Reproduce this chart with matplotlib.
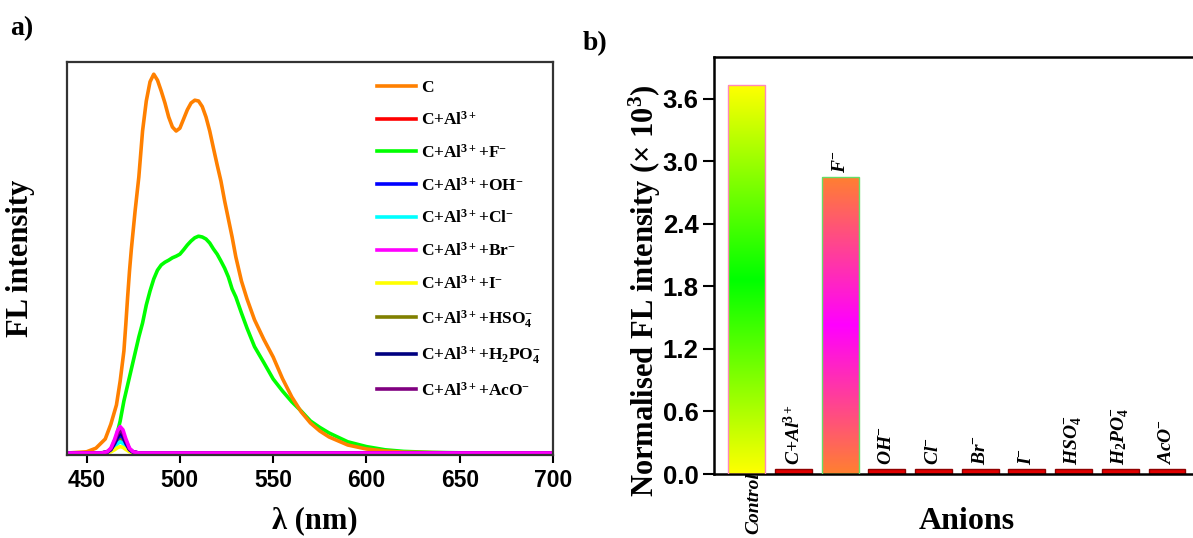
import matplotlib
matplotlib.use("Agg")
import matplotlib.pyplot as plt
import numpy as np
from matplotlib.colors import LinearSegmentedColormap
from matplotlib.font_manager import FontProperties

plt.rcParams['mathtext.fontset'] = 'custom'
plt.rcParams['mathtext.rm'] = 'Liberation Serif:bold'
plt.rcParams['mathtext.it'] = 'Liberation Serif:bold:italic'
plt.rcParams['mathtext.bf'] = 'Liberation Serif:bold'

# panel a: emission spectra (arbitrary units)
wl = [440, 450, 455, 460, 463, 466, 468, 470, 471, 472, 473, 474, 476, 478, 480, 482, 484,
      486, 488, 490, 492, 494, 496, 498, 500, 502, 504, 506, 508, 510, 512, 514,
      516, 518, 520, 522, 524, 526, 528, 530, 533, 536, 540, 545, 550, 555, 560,
      565, 570, 575, 580, 590, 600, 610, 620, 635, 650, 670, 700]
fl_c = [0, 3, 12, 35, 72, 120, 180, 255, 320, 390, 455, 510, 605, 690, 805, 880, 928,
        947, 932, 905, 875, 840, 815, 805, 812, 835, 858, 875, 882, 880, 866, 840,
        805, 762, 720, 680, 630, 585, 540, 490, 430, 385, 333, 284, 240, 186, 140,
        103, 75, 55, 40, 20, 10, 5, 2, 1, 0, 0, 0]
fl_f = [0, 0, 0, 1, 8, 42, 80, 130, 150, 170, 190, 210, 250, 290, 325, 370, 405,
        435, 457, 470, 477, 482, 488, 492, 497, 508, 520, 530, 538, 542, 540, 535,
        525, 510, 497, 480, 462, 440, 410, 390, 350, 312, 266, 226, 185, 155, 128,
        105, 80, 64, 50, 28, 16, 8, 4, 1.5, 0.5, 0, 0]

# quenched samples: only a small band near 468 nm
wl_q = [440, 458, 461, 463, 465, 466.5, 468, 469.5, 471, 473, 475, 478, 700]
fl_al = [0, 0, 2, 7, 21, 33, 40, 35, 22, 7, 2, 0, 0]
fl_oh = [0, 0, 2, 8, 23, 37, 45, 39, 24, 8, 2, 0, 0]
fl_cl = [0, 0, 1, 5, 14, 23, 28, 24, 15, 5, 1, 0, 0]
fl_br = [0, 0, 3, 12, 34, 55, 66, 58, 36, 12, 3, 0, 0]
fl_i = [0, 0, 1, 3, 8, 13, 16, 14, 9, 3, 1, 0, 0]
fl_hso4 = [0, 0, 2, 6, 18, 29, 35, 31, 19, 6, 2, 0, 0]
fl_h2po4 = [0, 0, 2, 9, 26, 41, 50, 44, 27, 9, 2, 0, 0]
fl_aco = [0, 0, 3, 10, 29, 47, 57, 50, 31, 10, 3, 0, 0]

labels_a = ['C', 'C+Al$^{3+}$', 'C+Al$^{3+}$+F$^{-}$', 'C+Al$^{3+}$+OH$^{-}$',
            'C+Al$^{3+}$+Cl$^{-}$', 'C+Al$^{3+}$+Br$^{-}$', 'C+Al$^{3+}$+I$^{-}$',
            'C+Al$^{3+}$+HSO$_4^{-}$', 'C+Al$^{3+}$+H$_2$PO$_4^{-}$',
            'C+Al$^{3+}$+AcO$^{-}$']
colors_a = ['#FF8000', '#FF0000', '#00FF00', '#0000FF', '#00FFFF', '#FF00FF',
            '#FFFF00', '#808000', '#000080', '#800080']

# panel b: normalised intensity (x 10^3)
anions = ['Control', 'C+Al$^{\\mathit{3+}}$', 'F$^{-}$', 'OH$^{-}$', 'Cl$^{-}$',
          'Br$^{-}$', 'I$^{-}$', 'HSO$_{\\mathit{4}}^{-}$',
          'H$_{\\mathit{2}}$PO$_{\\mathit{4}}^{-}$', 'AcO$^{-}$']
norm_fl = [3.73, 0.05, 2.85, 0.05, 0.05, 0.05, 0.05, 0.05, 0.05, 0.05]

serif_b = FontProperties(family='Liberation Serif', weight='bold', size=22)

fig = plt.figure(figsize=(11.93, 5.38), dpi=100)

# ---- panel a
ax = fig.add_axes([67 / 1193, 83 / 538, 486 / 1193, 393 / 538])
series = [(wl, fl_c), (wl_q, fl_al), (wl, fl_f), (wl_q, fl_oh), (wl_q, fl_cl),
          (wl_q, fl_br), (wl_q, fl_i), (wl_q, fl_hso4), (wl_q, fl_h2po4), (wl_q, fl_aco)]
order = [2, 0, 1, 7, 4, 6, 3, 8, 9, 5]
lines = {}
for k in order:
    x, y = series[k]
    lines[k], = ax.plot(x, y, color=colors_a[k], lw=2.6, label=labels_a[k])
handles = [lines[k] for k in range(10)]
ax.set_xlim(439.5, 700)
ax.set_ylim(-5, 977.5)
ax.set_yticks([])
ax.set_xticks([450, 500, 550, 600, 650, 700])
ax.tick_params(axis='x', direction='out', length=6, width=1.5, pad=4)
for lab in ax.get_xticklabels():
    lab.set_fontfamily('Liberation Sans')
    lab.set_fontweight('bold')
    lab.set_fontsize(16.5)
for sp in ax.spines.values():
    sp.set_linewidth(1.6)
    sp.set_color('#333333')
ax.set_xlabel('λ (nm)', fontproperties=serif_b)
ax.xaxis.set_label_coords(0.51, -0.13)
ax.set_ylabel('FL intensity', fontproperties=serif_b)
ax.yaxis.set_label_coords(-0.066, 0.5)
leg = ax.legend(handles=handles, loc='upper left', bbox_to_anchor=(0.638, 0.955),
                frameon=False, borderpad=0, borderaxespad=0, handlelength=2.25,
                handletextpad=0.3, labelspacing=0.86,
                prop=FontProperties(family='Liberation Serif', weight='bold', size=12.5))

# ---- panel b
bx = fig.add_axes([714 / 1193, 64 / 538, 481 / 1193, 417 / 538])
xpos = np.arange(len(anions))
bw = 0.79
bars = bx.bar(xpos, norm_fl, width=bw, color='#E00000', edgecolor='#900000', lw=1, zorder=2)
grad = np.linspace(0, 1, 256).reshape(-1, 1)
cm_ctrl = LinearSegmentedColormap.from_list('ctrl', ['#FFFF00', '#00FF00', '#FFFF00'])
cm_f = LinearSegmentedColormap.from_list('fbar', ['#FF8030', '#FF00FF', '#FF8030'])
for idx, cmap, ec in [(0, cm_ctrl, '#FF88BB'), (2, cm_f, '#66DD66')]:
    b = bars[idx]
    b.set_facecolor('none')
    b.set_edgecolor(ec)
    b.set_zorder(3)
    im = bx.imshow(grad, cmap=cmap, aspect='auto', origin='lower', zorder=2,
                   extent=[xpos[idx] - bw / 2, xpos[idx] + bw / 2, 0, norm_fl[idx]])
    im.set_clip_path(b)
bx.set_xlim(-0.70, 9.6)
bx.set_ylim(0, 4.0)
bx.set_xticks([])
bx.set_yticks(np.arange(0, 3.7, 0.6))
bx.set_yticklabels(['%.1f' % v for v in np.arange(0, 3.7, 0.6)])
bx.tick_params(axis='y', direction='out', length=8, width=1.5, pad=3)
for lab in bx.get_yticklabels():
    lab.set_fontfamily('Liberation Sans')
    lab.set_fontweight('bold')
    lab.set_fontsize(18.5)
bx.spines['right'].set_visible(False)
for s in ['left', 'bottom', 'top']:
    bx.spines[s].set_linewidth(1.8)
bx.set_ylabel('Normalised FL intensity (× 10$^3$)', fontproperties=serif_b)
bx.yaxis.set_label_coords(-0.105, 0.44)
bx.set_xlabel('Anions', fontproperties=FontProperties(family='Liberation Serif',
                                                      weight='bold', size=23))
bx.xaxis.set_label_coords(0.525, -0.08)

lab_font = dict(family='Liberation Serif', weight='bold', style='italic', size=14)
for i in range(1, len(anions)):
    bx.annotate(anions[i], (xpos[i], norm_fl[i]), xytext=(0, 3), textcoords='offset points',
                rotation=90, ha='center', va='bottom', **lab_font)
bx.annotate(anions[0], (xpos[0], 0), xytext=(5, 1), textcoords='offset points',
            rotation=90, ha='center', va='top', annotation_clip=False, **lab_font)

fig.text(10 / 1193, 1 - 16 / 538, 'a)', va='top', ha='left',
         fontproperties=FontProperties(family='Liberation Serif', weight='bold', size=20))
fig.text(583 / 1193, 1 - 31 / 538, 'b)', va='top', ha='left',
         fontproperties=FontProperties(family='Liberation Serif', weight='bold', size=20))

fig.savefig('out.png', dpi=100)
